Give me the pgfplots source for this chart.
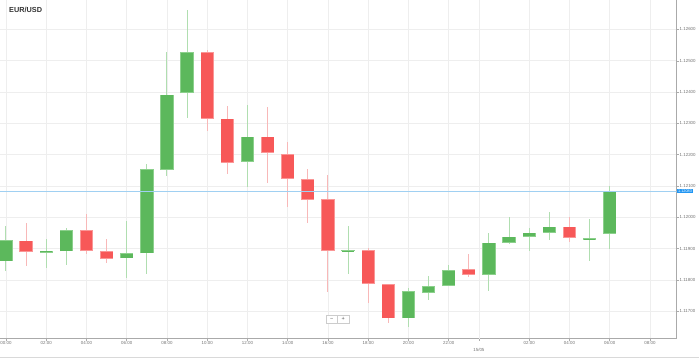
\documentclass[border=0pt]{standalone}
\usepackage{pgfplots}
\pgfplotsset{compat=1.18}
\usepackage{pgfplotstable}
\usepackage{fontspec}
\setmainfont{Liberation Sans}

\definecolor{upbody}{RGB}{92,184,92}
\definecolor{upborder}{RGB}{140,208,140}
\definecolor{upwick}{RGB}{176,222,176}
\definecolor{dnbody}{RGB}{247,88,88}
\definecolor{dnborder}{RGB}{250,150,150}
\definecolor{dnwick}{RGB}{248,184,184}
\definecolor{gridc}{RGB}{238,238,238}
\definecolor{axisc}{RGB}{170,170,170}
\definecolor{labc}{RGB}{115,115,115}
\definecolor{pricel}{RGB}{160,208,242}
\definecolor{priceb}{RGB}{33,150,243}

% hour (0 = 14/05 00:00), open, high, low, close
\pgfplotstableread{
h  o       hi      lo      c
0  1.11859 1.11972 1.11827 1.11927
2  1.11887 1.11930 1.11837 1.11893
3  1.11891 1.11965 1.11847 1.11959
6  1.11869 1.11989 1.11807 1.11885
7  1.11885 1.12171 1.11819 1.12154
8  1.12152 1.12528 1.12132 1.12392
9  1.12397 1.12663 1.12317 1.12528
12 1.12178 1.12360 1.12098 1.12258
17 1.11891 1.11973 1.11819 1.11896
20 1.11677 1.11773 1.11648 1.11765
21 1.11758 1.11811 1.11735 1.11779
22 1.11780 1.11846 1.11780 1.11830
24 1.11815 1.11949 1.11765 1.11919
25 1.11919 1.12000 1.11914 1.11938
26 1.11937 1.11967 1.11892 1.11951
27 1.11951 1.12018 1.11927 1.11970
29 1.11929 1.11995 1.11860 1.11934
30 1.11946 1.12101 1.11898 1.12083
}\upcandles

\pgfplotstableread{
h  o       hi      lo      c
1  1.11925 1.11983 1.11843 1.11889
4  1.11959 1.12011 1.11884 1.11892
5  1.11891 1.11932 1.11853 1.11867
10 1.12527 1.12535 1.12277 1.12315
11 1.12315 1.12354 1.12138 1.12175
13 1.12258 1.12352 1.12109 1.12205
14 1.12202 1.12240 1.12032 1.12123
15 1.12122 1.12154 1.11981 1.12055
16 1.12058 1.12136 1.11762 1.11892
18 1.11894 1.11901 1.11725 1.11787
19 1.11786 1.11786 1.11661 1.11677
23 1.11834 1.11883 1.11810 1.11816
28 1.11970 1.12000 1.11922 1.11934
}\dncandles

\pgfplotsset{candle/.style={draw=none, mark=none, forget plot}}

\begin{document}
\begin{tikzpicture}
\useasboundingbox (0,0) rectangle (699pt,358pt);
\begin{axis}[
  at={(0pt,358pt)}, anchor=north west,
  scale only axis, width=676.7pt, height=338.7pt,
  xmin=-0.298, xmax=33.33, ymin=1.116121, ymax=1.126942,
  axis x line*=bottom, axis y line*=right,
  axis line style={draw=axisc, line width=0.9pt},
  grid=major, major grid style={draw=gridc, line width=0.7pt},
  xtick={0,2,4,6,8,10,12,14,16,18,20,22,26,28,30,32},
  xticklabels={00:00,02:00,04:00,06:00,08:00,10:00,12:00,14:00,16:00,18:00,20:00,22:00,02:00,04:00,06:00,08:00},
  extra x ticks={23.5}, extra x tick labels={15/05},
  extra x tick style={grid=major, xticklabel style={yshift=-6.5pt}},
  ytick={1.117,1.118,1.119,1.120,1.121,1.122,1.123,1.124,1.125,1.126},
  yticklabels={1.11700,1.11800,1.11900,1.12000,1.12100,1.12200,1.12300,1.12400,1.12500,1.12600},
  tick label style={font=\fontsize{4.4}{5}\selectfont, text=labc},
  yticklabel style={inner sep=0.8pt},
  xticklabel style={inner sep=1pt},
  tick style={draw=axisc, line width=0.5pt},
  major tick length=2pt, tick align=outside,
  clip mode=individual,
]
% wicks
\addplot[candle, error bars/.cd, y dir=both, y explicit, error mark=none,
  error bar style={draw=upwick, line width=1pt}]
  table[x=h, y=o, y error plus expr=\thisrow{hi}-\thisrow{o}, y error minus expr=\thisrow{o}-\thisrow{lo}] {\upcandles};
\addplot[candle, error bars/.cd, y dir=both, y explicit, error mark=none,
  error bar style={draw=dnwick, line width=1pt}]
  table[x=h, y=o, y error plus expr=\thisrow{hi}-\thisrow{o}, y error minus expr=\thisrow{o}-\thisrow{lo}] {\dncandles};
% bodies: border
\addplot[candle, error bars/.cd, y dir=plus, y explicit, error mark=none,
  error bar style={draw=upborder, line width=13.3pt}]
  table[x=h, y=o, y error plus expr=\thisrow{c}-\thisrow{o}, y error minus expr=0] {\upcandles};
\addplot[candle, error bars/.cd, y dir=plus, y explicit, error mark=none,
  error bar style={draw=dnborder, line width=13.3pt}]
  table[x=h, y=c, y error plus expr=\thisrow{o}-\thisrow{c}, y error minus expr=0] {\dncandles};
% bodies: fill
\addplot[candle, error bars/.cd, y dir=plus, y explicit, error mark=none,
  error bar style={draw=upbody, line width=11.8pt, shorten <=0.7pt, shorten >=0.7pt}]
  table[x=h, y=o, y error plus expr=\thisrow{c}-\thisrow{o}, y error minus expr=0] {\upcandles};
\addplot[candle, error bars/.cd, y dir=plus, y explicit, error mark=none,
  error bar style={draw=dnbody, line width=11.8pt, shorten <=0.7pt, shorten >=0.7pt}]
  table[x=h, y=c, y error plus expr=\thisrow{o}-\thisrow{c}, y error minus expr=0] {\dncandles};
% current price line
\addplot[draw=pricel, line width=0.9pt, forget plot] coordinates {(-0.298,1.12083) (33.33,1.12083)};
\end{axis}
% title
\node[anchor=base west, font=\bfseries\fontsize{7.3}{8}\selectfont, text=black!80, inner sep=0] at (9pt,345.7pt) {EUR/USD};
% current price label
\node[fill=priceb, text=white, font=\fontsize{3.8}{4}\selectfont, inner xsep=1pt, inner ysep=0.7pt, anchor=west] at (677pt,166.8pt) {1.12083};
% zoom buttons
\draw[draw=black!20, line width=0.5pt, fill=white] (326pt,34.7pt) rectangle (349pt,43pt);
\draw[draw=black!20, line width=0.5pt] (337.5pt,34.7pt) -- (337.5pt,43pt);
\node[font=\fontsize{5.5}{6}\selectfont, text=black!70, inner sep=0] at (331.7pt,38.9pt) {−};
\node[font=\fontsize{5.5}{6}\selectfont, text=black!70, inner sep=0] at (343.3pt,38.9pt) {+};
% bottom border
\draw[draw=black!15, line width=0.8pt] (0pt,0.6pt) -- (699pt,0.6pt);
\end{tikzpicture}
\end{document}
